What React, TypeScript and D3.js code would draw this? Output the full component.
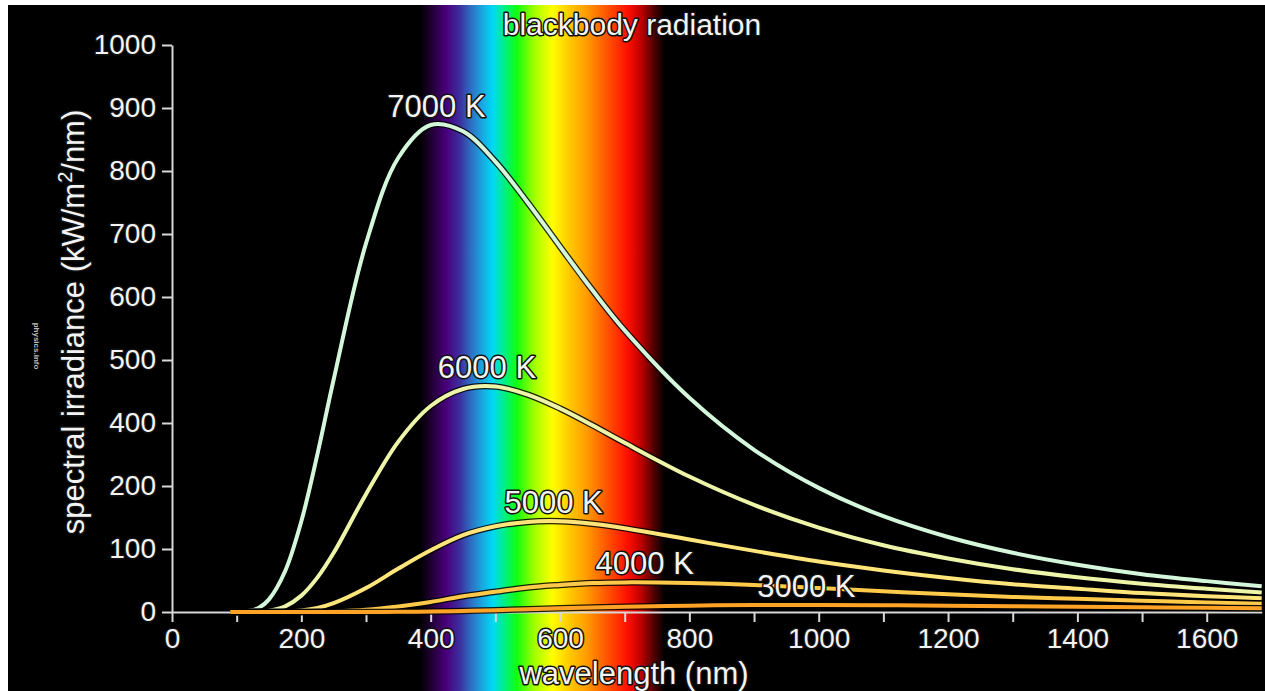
import { useRef, useEffect } from "react";
import * as d3 from "d3";

// wavelength samples (nm)
const wavelengths = [90, 105, 120, 135, 150, 175, 200, 225, 250, 300, 350, 400, 450, 500, 550, 600, 650, 700, 800, 900, 1000, 1100, 1200, 1300, 1400, 1500, 1600, 1685];

// spectral irradiance, in the units of the printed axis
const irr7000 = [0, 0.3, 2, 7, 20, 65, 144, 302, 469, 685, 821, 873, 863, 815, 750, 680, 611, 547, 440, 315, 197, 152, 119, 94, 75, 60, 49, 41];
const irr6000 = [0, 0, 0.1, 0.6, 2, 9, 26, 55, 94, 187, 341, 427, 454, 458, 445, 423, 393, 337, 230, 170, 134, 106, 85, 68, 55, 45, 37, 31];
const irr5000 = [0, 0, 0, 0, 0.1, 0.6, 2.4, 6.5, 14, 38, 69, 98, 122, 136, 143, 144, 140, 133, 115, 97, 80, 66, 54, 44, 37, 30, 25, 22];
const irr4000 = [0, 0, 0, 0, 0, 0, 0.1, 0.3, 0.8, 3.4, 8.8, 16, 25, 32, 39, 43, 46, 47, 46, 43, 38, 33, 28, 24, 21, 18, 15, 13];
const irr3000 = [0, 0, 0, 0, 0, 0, 0, 0, 0, 0.1, 0.3, 0.8, 1.7, 2.9, 4.3, 5.8, 7.2, 8.4, 10.1, 11, 11.1, 10.7, 10, 9.2, 8.3, 7.5, 6.7, 6];

const seriesNames = ["7000 K", "6000 K", "5000 K", "4000 K", "3000 K"];
const seriesValues = [irr7000, irr6000, irr5000, irr4000, irr3000];
// wavelength where each curve label sits (nm)
const labelNm = [409, 487, 590, 731, 981];

const xTicks = [0, 100, 200, 300, 400, 500, 600, 700, 800, 900, 1000, 1100, 1200, 1300, 1400, 1500, 1600];
// the printed axis skips 300
const yTicks = [0, 100, 200, 400, 500, 600, 700, 800, 900, 1000];
const yTickLabels = ["0", "100", "200", "400", "500", "600", "700", "800", "900", "1000"];

// visible band (nm)
const spectrumNm = [383, 400, 425, 445, 461, 480, 496, 515, 533, 560, 588, 615, 639, 670, 704, 725, 745, 762];
const spectrumColors = ["#000000", "#1e0030", "#4a007e", "#3c2f9e", "#2f6ac0", "#1aa8e0", "#00d8f6", "#00f080", "#10ff10", "#a0ff00", "#ffff00", "#ffc800", "#ffa000", "#ff5a00", "#ff1000", "#c00000", "#500000", "#000000"];
const lineColors = ["#d4f7dc", "#eef5a8", "#ffe57a", "#ffc94a", "#ffa326"];

const W = 1265;
const H = 691;
const FONT = "'Liberation Sans', Arial, Helvetica, sans-serif";

function outlined(sel: any, size: number) {
  return sel
    .attr("fill", "#f4f4f4")
    .attr("stroke", "#111")
    .attr("stroke-width", 3)
    .attr("stroke-linejoin", "round")
    .attr("paint-order", "stroke")
    .style("font-family", FONT)
    .style("font-size", size + "px");
}

export default function App() {
  const svgRef = useRef<SVGSVGElement>(null);

  useEffect(() => {
    const svg = d3.select(svgRef.current);
    svg.selectAll("*").remove();

    const x = d3.scaleLinear().domain([0, 1685]).range([172, 1261.7]);
    const step = (612 - 45) / 9;
    const y = d3
      .scaleLinear()
      .domain([0, 200, 400, 1000])
      .range([612, 612 - 2 * step, 612 - 3 * step, 45]);

    // frame
    svg.append("rect").attr("width", W).attr("height", H).attr("fill", "#fff");
    svg.append("rect").attr("x", 8).attr("y", 5).attr("width", W - 8).attr("height", H - 5).attr("fill", "#000");

    // spectrum band
    const x0 = x(spectrumNm[0]);
    const x1 = x(spectrumNm[spectrumNm.length - 1]);
    const grad = svg
      .append("defs")
      .append("linearGradient")
      .attr("id", "spectrum")
      .attr("gradientUnits", "userSpaceOnUse")
      .attr("x1", x0)
      .attr("x2", x1)
      .attr("y1", 0)
      .attr("y2", 0);
    spectrumNm.forEach((nm, i) => {
      grad
        .append("stop")
        .attr("offset", (x(nm) - x0) / (x1 - x0))
        .attr("stop-color", spectrumColors[i]);
    });
    svg.append("rect").attr("x", x0).attr("y", 5).attr("width", x1 - x0).attr("height", H - 5).attr("fill", "url(#spectrum)");

    // axes
    const styleAxis = (g: any, size: number) => {
      g.attr("font-size", null).attr("font-family", null);
      g.select(".domain").attr("stroke", "#d8d8d8").attr("stroke-width", 2);
      g.selectAll(".tick line").attr("stroke", "#d8d8d8").attr("stroke-width", 2);
      outlined(g.selectAll(".tick text"), size);
    };

    const gx = svg
      .append("g")
      .attr("transform", `translate(0,${y(0)})`)
      .call(
        d3
          .axisBottom(x)
          .tickValues(xTicks)
          .tickFormat((d: any) => (d % 200 === 0 ? String(d) : ""))
          .tickSize(10)
          .tickSizeOuter(0)
          .tickPadding(6)
      );
    styleAxis(gx, 28);

    const gy = svg
      .append("g")
      .attr("transform", `translate(${x(0)},0)`)
      .call(
        d3
          .axisLeft(y)
          .tickValues(yTicks)
          .tickFormat((d: any, i: number) => yTickLabels[i])
          .tickSize(10)
          .tickSizeOuter(0)
          .tickPadding(6)
      );
    styleAxis(gy, 28);

    // curves
    const line = d3
      .line<number>()
      .x((d, i) => x(wavelengths[i]))
      .y((d) => y(d))
      .curve(d3.curveCatmullRom.alpha(0.5));

    seriesValues.forEach((vals, s) => {
      svg
        .append("path")
        .datum(vals)
        .attr("fill", "none")
        .attr("stroke", "#000")
        .attr("stroke-opacity", 0.85)
        .attr("stroke-width", 6.5)
        .attr("d", line);
      svg
        .append("path")
        .datum(vals)
        .attr("fill", "none")
        .attr("stroke", lineColors[s])
        .attr("stroke-width", 4)
        .attr("d", line);
    });

    // curve labels
    seriesNames.forEach((name, s) => {
      const peak = d3.max(seriesValues[s]) as number;
      outlined(
        svg
          .append("text")
          .attr("x", x(labelNm[s]))
          .attr("y", y(peak) - 8)
          .attr("text-anchor", "middle")
          .text(name),
        31
      );
    });

    // title
    outlined(
      svg.append("text").attr("x", 632).attr("y", 35).attr("text-anchor", "middle").text("blackbody radiation"),
      30
    );

    // x axis title
    outlined(
      svg.append("text").attr("x", 634).attr("y", 684).attr("text-anchor", "middle").text("wavelength (nm)"),
      31
    );

    // y axis title
    const yt = svg
      .append("text")
      .attr("transform", "translate(84,322) rotate(-90)")
      .attr("text-anchor", "middle");
    yt.append("tspan").text("spectral irradiance (kW/m");
    yt.append("tspan").attr("dy", -12).style("font-size", "20px").text("2");
    yt.append("tspan").attr("dy", 12).text("/nm)");
    outlined(yt, 31);

    // watermark
    svg
      .append("text")
      .attr("transform", "translate(34,346) rotate(90)")
      .attr("text-anchor", "middle")
      .attr("fill", "#bbb")
      .style("font-family", FONT)
      .style("font-size", "8px")
      .style("font-weight", "bold")
      .text("physics.info");
  }, []);

  return (
    <svg
      ref={svgRef}
      width={W}
      height={H}
      style={{ position: "absolute", left: 0, top: 0, display: "block" }}
    />
  );
}
